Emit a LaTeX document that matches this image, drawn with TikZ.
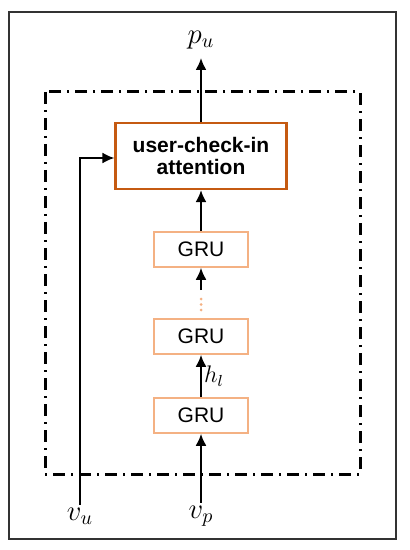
\documentclass[tikz,border=0pt]{standalone}
\usepackage{fontspec}
\setmainfont{Liberation Sans}
\usetikzlibrary{arrows.meta}
\definecolor{attnorange}{RGB}{197,90,17}
\definecolor{gruorange}{RGB}{244,177,131}
\begin{document}
\begin{tikzpicture}[x=0.5pt,y=-0.5pt, line width=1pt,
        >={Latex[length=6pt,width=5.5pt]},
        attnbox/.style={draw=attnorange, line width=1.1pt, minimum width=85.5pt, minimum height=33pt,
            align=center, font=\fontsize{10.5}{11}\selectfont\bfseries},
        grubox/.style={draw=gruorange, line width=0.8pt, minimum width=47pt, minimum height=17.5pt,
            font=\fontsize{10.5}{12}\selectfont},
        mathlabel/.style={font=\fontsize{14}{16}\selectfont, inner sep=1pt}]
        \useasboundingbox (0,0) rectangle (409,550);
        \draw[black!80] (9,12) rectangle (396,539);
        \draw[line width=1.5pt, dash pattern=on 6pt off 3pt on 1pt off 3pt] (45,92) rectangle (360,474);
        \node[attnbox] (attn) at (201,156) {user-check-in\\attention};
        \node[grubox] (gru3) at (201,249.5) {GRU};
        \node[grubox] (gru2) at (201,336.5) {GRU};
        \node[grubox] (gru1) at (201,415.5) {GRU};
        \coordinate (dotstop) at (201,290);
        \foreach \y in {299,304.5,310} {
            \fill[gruorange] (201,\y) circle (0.75pt);
        }
        \node[mathlabel] (pu) at (201,40) {$p_u$};
        \node[mathlabel] (vu) at (80,516) {$v_u$};
        \node[mathlabel] (vp) at (201,516) {$v_p$};
        \draw[->] (attn.north) -- ([yshift=-3pt]pu.south);
        \draw[->] (gru3.north) -- (attn.south);
        \draw[->] (dotstop) -- (gru3.south);
        \draw[->] (gru1.north) -- node[right, mathlabel, font=\fontsize{12}{14}\selectfont] {$h_l$} (gru2.south);
        \draw[->] (vp.north) -- (gru1.south);
        \draw[->] (vu.north) |- ([yshift=-1pt]attn.west);
    \end{tikzpicture}
\end{document}
